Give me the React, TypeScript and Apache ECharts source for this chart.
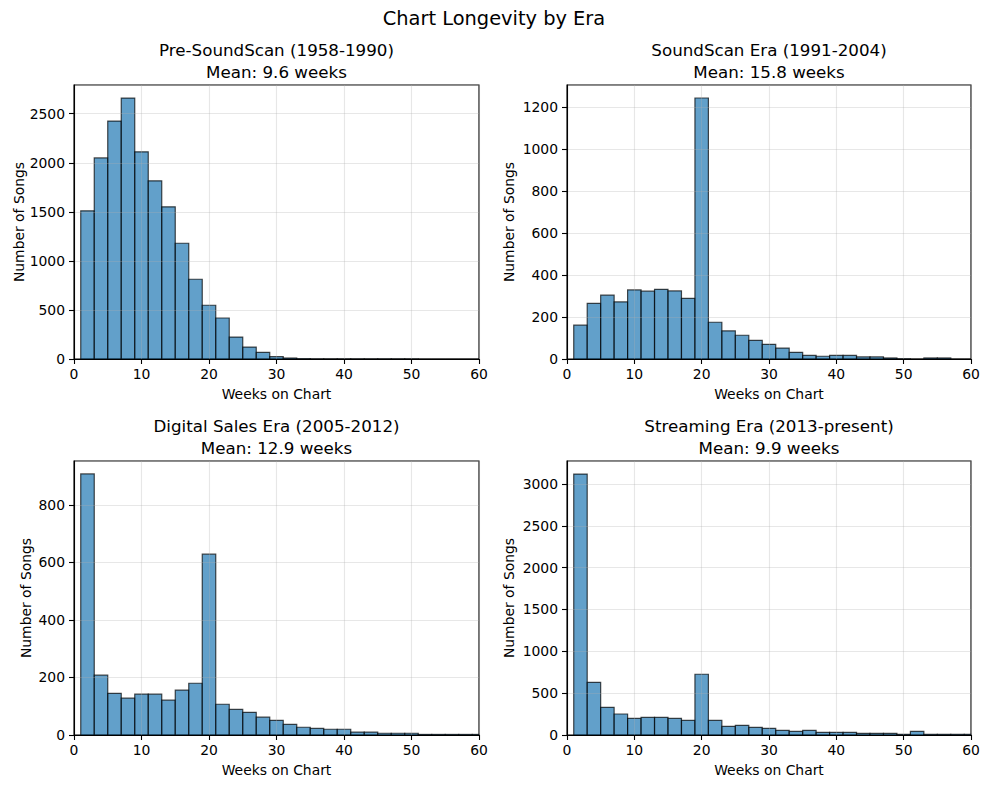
import { useEffect, useRef } from 'react';
import * as echarts from 'echarts';

// 直方图分箱边界 (周)
const BIN_EDGES = [1, 3, 5, 7, 9, 11, 13, 15, 17, 19, 21, 23, 25, 27, 29, 31, 33, 35, 37, 39, 41, 43, 45, 47, 49, 51, 53, 55, 57, 59, 61];

const PRE_SOUNDSCAN = [1510, 2050, 2425, 2660, 2112, 1816, 1551, 1180, 813, 548, 418, 224, 122, 68, 24, 10, 3, 1, 1, 1, 1, 1, 1, 1, 1, 0, 0, 0, 0, 0];
const SOUNDSCAN = [161, 265, 304, 272, 329, 323, 332, 324, 289, 1243, 175, 134, 113, 89, 70, 52, 32, 17, 13, 17, 17, 10, 10, 5, 1, 0, 5, 5, 0, 0];
const DIGITAL_SALES = [908, 208, 145, 128, 142, 142, 121, 156, 180, 629, 107, 89, 79, 62, 51, 37, 27, 23, 20, 20, 10, 10, 6, 6, 6, 2, 2, 2, 2, 2];
const STREAMING = [3118, 630, 331, 251, 199, 211, 211, 199, 175, 726, 175, 104, 116, 92, 80, 56, 44, 56, 32, 32, 32, 20, 20, 20, 8, 44, 8, 8, 8, 8];

const ERA_TITLES = ['Pre-SoundScan (1958-1990)', 'SoundScan Era (1991-2004)', 'Digital Sales Era (2005-2012)', 'Streaming Era (2013-present)'];
const ERA_MEANS = ['9.6', '15.8', '12.9', '9.9'];
const Y_MAX = [2793, 1305, 953, 3274];
const Y_INTERVAL = [500, 200, 200, 500];

const FONT = '"DejaVu Sans", sans-serif';

// 子图位置
const PANELS = [
  { left: 74, top: 85, width: 405, height: 274, nameGap: 44 },
  { left: 567, top: 85, width: 404, height: 274, nameGap: 51 },
  { left: 74, top: 461, width: 405, height: 274, nameGap: 41 },
  { left: 567, top: 461, width: 404, height: 274, nameGap: 51 },
];

export default function App() {
  const chartRef = useRef<HTMLDivElement>(null);

  useEffect(() => {
    if (!chartRef.current) return;
    const chart = echarts.init(chartRef.current, null, { renderer: 'svg' });

    const eras = [PRE_SOUNDSCAN, SOUNDSCAN, DIGITAL_SALES, STREAMING];

    const renderItem = (params: any, api: any) => {
      const x0 = api.value(0);
      const x1 = api.value(1);
      const count = api.value(2);
      const p0 = api.coord([x0, count]);
      const p1 = api.coord([x1, 0]);
      const cs = params.coordSys;
      const shape = echarts.graphic.clipRectByRect(
        { x: p0[0], y: p0[1], width: p1[0] - p0[0], height: p1[1] - p0[1] },
        { x: cs.x, y: cs.y, width: cs.width, height: cs.height }
      );
      if (!shape) return null;
      return {
        type: 'rect',
        shape,
        style: {
          fill: 'rgba(31,119,180,0.7)',
          stroke: 'rgba(0,0,0,0.7)',
          lineWidth: 1.2,
        },
      };
    };

    const graphics: any[] = [
      {
        type: 'text',
        x: 494,
        y: 18,
        style: {
          text: 'Chart Longevity by Era',
          font: `19.4px ${FONT}`,
          fill: '#000',
          align: 'center',
          verticalAlign: 'middle',
        },
      },
    ];
    PANELS.forEach((p, i) => {
      const cx = p.left + p.width / 2;
      graphics.push({
        type: 'text',
        x: cx,
        y: p.top - 35,
        style: { text: ERA_TITLES[i], font: `16.7px ${FONT}`, fill: '#000', align: 'center', verticalAlign: 'middle' },
      });
      graphics.push({
        type: 'text',
        x: cx,
        y: p.top - 13,
        style: { text: `Mean: ${ERA_MEANS[i]} weeks`, font: `16.7px ${FONT}`, fill: '#000', align: 'center', verticalAlign: 'middle' },
      });
    });

    const option: any = {
      animation: false,
      textStyle: { fontFamily: FONT },
      grid: PANELS.map(p => ({
        left: p.left,
        top: p.top,
        width: p.width,
        height: p.height,
        containLabel: false,
        show: true,
        borderColor: '#000',
        borderWidth: 1.1,
      })),
      xAxis: PANELS.map((_, i) => ({
        type: 'value',
        gridIndex: i,
        min: 0,
        max: 60,
        interval: 10,
        z: 3,
        name: 'Weeks on Chart',
        nameLocation: 'middle',
        nameGap: 28,
        nameTextStyle: { fontSize: 13.9, color: '#000', fontFamily: FONT },
        axisLine: { lineStyle: { color: '#000', width: 1.1 } },
        axisTick: { show: true, length: 5, lineStyle: { color: '#000', width: 1.1 } },
        axisLabel: { fontSize: 13.9, color: '#000', margin: 8, fontFamily: FONT },
        splitLine: { show: true, lineStyle: { color: 'rgba(176,176,176,0.3)', width: 1.1 } },
      })),
      yAxis: PANELS.map((p, i) => ({
        type: 'value',
        gridIndex: i,
        min: 0,
        max: Y_MAX[i],
        interval: Y_INTERVAL[i],
        z: 3,
        name: 'Number of Songs',
        nameLocation: 'middle',
        nameGap: p.nameGap,
        nameTextStyle: { fontSize: 13.9, color: '#000', fontFamily: FONT },
        axisLine: { show: true, lineStyle: { color: '#000', width: 1.1 } },
        axisTick: { show: true, length: 5, lineStyle: { color: '#000', width: 1.1 } },
        axisLabel: {
          fontSize: 13.9,
          color: '#000',
          margin: 9,
          showMaxLabel: false,
          fontFamily: FONT,
          formatter: (v: number) => String(v),
        },
        splitLine: { show: true, lineStyle: { color: 'rgba(176,176,176,0.3)', width: 1.1 } },
      })),
      series: eras.map((counts, i) => ({
        type: 'custom',
        xAxisIndex: i,
        yAxisIndex: i,
        renderItem,
        encode: { x: [0, 1], y: 2 },
        data: counts.map((c, k) => [BIN_EDGES[k], BIN_EDGES[k + 1], c]),
      })),
      graphic: graphics,
    };

    chart.setOption(option);

    return () => {
      chart.dispose();
    };
  }, []);

  return (
    <div
      ref={chartRef}
      style={{ position: 'fixed', left: 0, top: 0, width: 989, height: 788, background: '#fff' }}
    />
  );
}
